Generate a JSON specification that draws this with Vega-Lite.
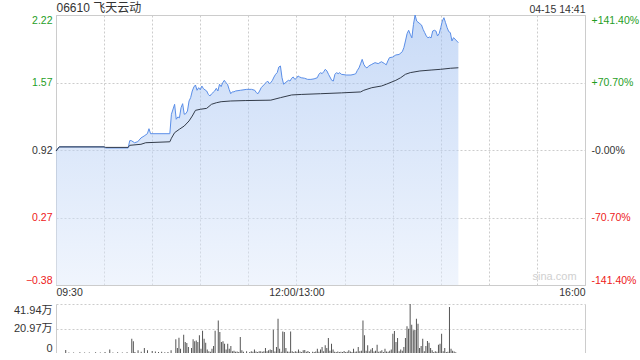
{
  "$schema": "https://vega.github.io/schema/vega-lite/v6.json",
  "padding": {"left": 5, "top": 0, "right": 0, "bottom": 0},
  "background": "white",
  "config": {"font": "Liberation Sans, Noto Sans CJK SC", "concat": {"spacing": 6}},
  "datasets": {
    "price": [
      {"m":0,"p":0.91},{"m":2,"p":0.95},{"m":30,"p":0.95},{"m":31,"p":0.94},{"m":45,"p":0.94},{"m":46,"p":1.01},{"m":47,"p":1.01},{"m":49,"p":0.99},{"m":51,"p":1.0},{"m":53,"p":1.036},{"m":55,"p":1.055},{"m":57,"p":1.077},{"m":58,"p":1.125},{"m":59,"p":1.077},{"m":71,"p":1.077},{"m":72,"p":1.264},{"m":74,"p":1.36},{"m":75,"p":1.216},{"m":76,"p":1.238},{"m":77,"p":1.23},{"m":78,"p":1.327},{"m":79,"p":1.366},{"m":80,"p":1.264},{"m":81,"p":1.27},{"m":82,"p":1.295},{"m":83,"p":1.392},{"m":84,"p":1.424},{"m":85,"p":1.488},{"m":86,"p":1.527},{"m":87,"p":1.546},{"m":88,"p":1.495},{"m":89,"p":1.52},{"m":90,"p":1.5},{"m":91,"p":1.536},{"m":92,"p":1.51},{"m":94,"p":1.488},{"m":95,"p":1.456},{"m":96,"p":1.44},{"m":97,"p":1.46},{"m":99,"p":1.488},{"m":100,"p":1.514},{"m":101,"p":1.488},{"m":102,"p":1.553},{"m":103,"p":1.53},{"m":104,"p":1.568},{"m":105,"p":1.591},{"m":106,"p":1.568},{"m":107,"p":1.553},{"m":108,"p":1.504},{"m":109,"p":1.462},{"m":110,"p":1.48},{"m":111,"p":1.48},{"m":112,"p":1.488},{"m":115,"p":1.495},{"m":119,"p":1.504},{"m":122,"p":1.504},{"m":124,"p":1.495},{"m":125,"p":1.472},{"m":126,"p":1.462},{"m":127,"p":1.488},{"m":128,"p":1.52},{"m":129,"p":1.536},{"m":130,"p":1.553},{"m":131,"p":1.568},{"m":132,"p":1.584},{"m":133,"p":1.56},{"m":134,"p":1.568},{"m":135,"p":1.591},{"m":136,"p":1.623},{"m":137,"p":1.649},{"m":138,"p":1.665},{"m":139,"p":1.719},{"m":140,"p":1.729},{"m":141,"p":1.616},{"m":142,"p":1.553},{"m":143,"p":1.568},{"m":145,"p":1.591},{"m":146,"p":1.584},{"m":147,"p":1.611},{"m":148,"p":1.623},{"m":149,"p":1.6},{"m":150,"p":1.611},{"m":151,"p":1.633},{"m":152,"p":1.623},{"m":153,"p":1.616},{"m":155,"p":1.611},{"m":157,"p":1.6},{"m":159,"p":1.6},{"m":161,"p":1.605},{"m":163,"p":1.616},{"m":164,"p":1.649},{"m":165,"p":1.665},{"m":166,"p":1.655},{"m":167,"p":1.674},{"m":168,"p":1.697},{"m":169,"p":1.681},{"m":170,"p":1.649},{"m":172,"p":1.591},{"m":173,"p":1.584},{"m":174,"p":1.649},{"m":175,"p":1.665},{"m":176,"p":1.655},{"m":177,"p":1.665},{"m":178,"p":1.649},{"m":181,"p":1.642},{"m":184,"p":1.642},{"m":186,"p":1.649},{"m":187,"p":1.655},{"m":188,"p":1.687},{"m":189,"p":1.71},{"m":190,"p":1.75},{"m":191,"p":1.793},{"m":192,"p":1.745},{"m":193,"p":1.72},{"m":194,"p":1.71},{"m":195,"p":1.728},{"m":197,"p":1.745},{"m":199,"p":1.761},{"m":201,"p":1.752},{"m":203,"p":1.77},{"m":205,"p":1.752},{"m":206,"p":1.74},{"m":207,"p":1.777},{"m":208,"p":1.809},{"m":210,"p":1.815},{"m":212,"p":1.835},{"m":214,"p":1.84},{"m":216,"p":1.866},{"m":217,"p":1.905},{"m":218,"p":1.97},{"m":219,"p":2.04},{"m":220,"p":2.073},{"m":221,"p":2.034},{"m":222,"p":2.0},{"m":223,"p":2.13},{"m":224,"p":2.22},{"m":225,"p":2.162},{"m":227,"p":2.136},{"m":228,"p":2.124},{"m":229,"p":2.082},{"m":230,"p":2.05},{"m":231,"p":2.018},{"m":232,"p":2.0},{"m":233,"p":2.008},{"m":234,"p":2.0},{"m":235,"p":2.066},{"m":236,"p":2.073},{"m":237,"p":2.066},{"m":238,"p":2.018},{"m":239,"p":2.04},{"m":240,"p":2.098},{"m":241,"p":2.162},{"m":242,"p":2.194},{"m":243,"p":2.146},{"m":244,"p":2.098},{"m":245,"p":2.06},{"m":246,"p":2.05},{"m":247,"p":1.97},{"m":248,"p":2.002},{"m":250,"p":1.97},{"m":251,"p":1.953}
    ],
    "avg": [
      {"m":0,"a":0.91},{"m":2,"a":0.95},{"m":30,"a":0.95},{"m":31,"a":0.945},{"m":45,"a":0.945},{"m":46,"a":0.965},{"m":53,"a":0.975},{"m":56,"a":0.99},{"m":71,"a":0.999},{"m":72,"a":1.033},{"m":74,"a":1.087},{"m":77,"a":1.12},{"m":80,"a":1.151},{"m":83,"a":1.2},{"m":85,"a":1.247},{"m":87,"a":1.302},{"m":90,"a":1.312},{"m":94,"a":1.321},{"m":97,"a":1.36},{"m":100,"a":1.375},{"m":103,"a":1.385},{"m":109,"a":1.392},{"m":118,"a":1.396},{"m":131,"a":1.399},{"m":134,"a":1.4},{"m":140,"a":1.424},{"m":147,"a":1.45},{"m":153,"a":1.455},{"m":165,"a":1.462},{"m":178,"a":1.47},{"m":190,"a":1.479},{"m":192,"a":1.495},{"m":194,"a":1.505},{"m":197,"a":1.52},{"m":203,"a":1.536},{"m":206,"a":1.553},{"m":212,"a":1.591},{"m":215,"a":1.616},{"m":218,"a":1.649},{"m":221,"a":1.665},{"m":227,"a":1.681},{"m":234,"a":1.69},{"m":240,"a":1.697},{"m":246,"a":1.707},{"m":251,"a":1.712}
    ],
    "vol": [
      {"m":3,"v":2.5},{"m":5,"v":0.5},{"m":8,"v":0.4},{"m":12,"v":0.6},{"m":15,"v":0.5},{"m":18,"v":0.4},{"m":22,"v":0.6},{"m":25,"v":0.5},{"m":28,"v":0.8},{"m":31,"v":2.9},{"m":33,"v":0.5},{"m":36,"v":0.6},{"m":39,"v":0.5},{"m":42,"v":0.7},{"m":45,"v":12.3},{"m":46,"v":10},{"m":47,"v":0.8},{"m":49,"v":2.3},{"m":51,"v":1.0},{"m":53,"v":4.3},{"m":55,"v":2.3},{"m":58,"v":1.7},{"m":60,"v":1.2},{"m":62,"v":0.8},{"m":64,"v":1.0},{"m":66,"v":0.6},{"m":68,"v":0.8},{"m":70,"v":2.3},{"m":73,"v":11.7},{"m":74,"v":4.3},{"m":75,"v":13.1},{"m":76,"v":3.7},{"m":78,"v":15.7},{"m":79,"v":9.4},{"m":80,"v":8.5},{"m":81,"v":5.1},{"m":83,"v":4.3},{"m":84,"v":11.7},{"m":85,"v":10},{"m":86,"v":10.8},{"m":87,"v":9.4},{"m":88,"v":15.1},{"m":89,"v":3.7},{"m":90,"v":19.1},{"m":91,"v":12.3},{"m":92,"v":8.8},{"m":93,"v":3.1},{"m":94,"v":1.4},{"m":95,"v":1.0},{"m":96,"v":3.7},{"m":97,"v":6.0},{"m":98,"v":19.1},{"m":100,"v":27.9},{"m":101,"v":18},{"m":102,"v":9.4},{"m":103,"v":10},{"m":104,"v":8},{"m":105,"v":3.1},{"m":106,"v":8},{"m":107,"v":3.7},{"m":108,"v":6},{"m":109,"v":1.5},{"m":110,"v":2},{"m":111,"v":1.0},{"m":112,"v":1.2},{"m":113,"v":0.8},{"m":114,"v":13.7},{"m":115,"v":2.3},{"m":116,"v":1.0},{"m":118,"v":1.4},{"m":120,"v":0.9},{"m":121,"v":1.5},{"m":122,"v":1.0},{"m":123,"v":2.9},{"m":124,"v":1.2},{"m":125,"v":0.8},{"m":126,"v":1.4},{"m":127,"v":1.4},{"m":128,"v":1.0},{"m":129,"v":1.4},{"m":130,"v":4.3},{"m":131,"v":1.5},{"m":132,"v":2.3},{"m":133,"v":2.9},{"m":134,"v":2.6},{"m":135,"v":20},{"m":136,"v":1.2},{"m":137,"v":5.1},{"m":138,"v":29.4},{"m":139,"v":3.7},{"m":140,"v":1.0},{"m":141,"v":18.5},{"m":142,"v":18},{"m":143,"v":4.3},{"m":144,"v":1.2},{"m":145,"v":1.0},{"m":146,"v":18.5},{"m":147,"v":1.5},{"m":148,"v":0.9},{"m":149,"v":1.4},{"m":150,"v":1.0},{"m":151,"v":3.1},{"m":152,"v":1.2},{"m":153,"v":0.8},{"m":154,"v":2.3},{"m":155,"v":2.6},{"m":156,"v":1.0},{"m":157,"v":1.7},{"m":158,"v":0.8},{"m":160,"v":1.0},{"m":161,"v":0.9},{"m":162,"v":1.2},{"m":163,"v":3.7},{"m":164,"v":1.0},{"m":165,"v":2.9},{"m":166,"v":5.1},{"m":167,"v":1.4},{"m":168,"v":6.6},{"m":169,"v":4.3},{"m":170,"v":12.8},{"m":171,"v":2.0},{"m":172,"v":8},{"m":173,"v":2.9},{"m":174,"v":1.0},{"m":175,"v":0.8},{"m":176,"v":1.2},{"m":177,"v":0.9},{"m":178,"v":1.0},{"m":179,"v":0.8},{"m":180,"v":1.7},{"m":181,"v":0.9},{"m":182,"v":1.0},{"m":183,"v":2.3},{"m":184,"v":1.2},{"m":185,"v":0.8},{"m":186,"v":3.7},{"m":187,"v":1.0},{"m":188,"v":1.2},{"m":189,"v":5.1},{"m":190,"v":1.4},{"m":191,"v":2.0},{"m":192,"v":27.9},{"m":193,"v":15.1},{"m":194,"v":2.0},{"m":195,"v":6.6},{"m":196,"v":1.5},{"m":197,"v":2.9},{"m":198,"v":4.3},{"m":199,"v":1.2},{"m":200,"v":2.0},{"m":201,"v":7.1},{"m":202,"v":1.0},{"m":203,"v":1.4},{"m":204,"v":2.3},{"m":205,"v":0.9},{"m":206,"v":3.7},{"m":207,"v":1.2},{"m":208,"v":1.0},{"m":209,"v":2.0},{"m":210,"v":2.9},{"m":211,"v":16.5},{"m":212,"v":18.8},{"m":213,"v":9.4},{"m":214,"v":12.8},{"m":215,"v":1.5},{"m":216,"v":2.9},{"m":217,"v":2.0},{"m":218,"v":5.1},{"m":219,"v":12.8},{"m":220,"v":23},{"m":221,"v":20.8},{"m":222,"v":41.9},{"m":223,"v":24.2},{"m":224,"v":19.4},{"m":225,"v":19.7},{"m":226,"v":29.4},{"m":227,"v":25},{"m":228,"v":4.3},{"m":229,"v":6},{"m":230,"v":12.3},{"m":231,"v":1.4},{"m":232,"v":6},{"m":233,"v":10.3},{"m":234,"v":8.8},{"m":235,"v":4.3},{"m":236,"v":2.3},{"m":237,"v":0.9},{"m":238,"v":1.4},{"m":239,"v":1.0},{"m":240,"v":7.1},{"m":241,"v":8},{"m":242,"v":16.5},{"m":243,"v":1.4},{"m":244,"v":4.3},{"m":245,"v":0.9},{"m":246,"v":1.0},{"m":247,"v":39.3},{"m":248,"v":3.7},{"m":249,"v":2.0},{"m":250,"v":1.2},{"m":251,"v":0.6}
    ],
    "wm": [{"m":311,"p":-0.30,"t":"sina.com"}]
  },
  "vconcat": [
    {
      "width": 529,
      "height": 270,
      "view": {"stroke": "#cccccc"},
      "resolve": {"axis": {"x": "independent", "y": "independent"}},
      "layer": [
        {
          "data": {"name": "price"},
          "mark": {"type": "area", "line": false, "fillOpacity": 0.5, "color": {"gradient": "linear", "x1": 0, "y1": 0, "x2": 0, "y2": 1, "stops": [{"offset": 0, "color": "#93b7ef"}, {"offset": 1, "color": "#e1ebfb"}]}},
          "encoding": {
            "x": {"field": "m", "type": "quantitative", "scale": {"domain": [0, 330], "nice": false, "zero": false},
              "axis": {"orient": "bottom", "values": [0,30,60,90,120,150,180,210,240,270,300,330], "labelExpr": "datum.value==0?'09:30':(datum.value==150?'12:00/13:00':(datum.value==330?'16:00':''))", "grid": true, "gridColor": "#cccccc", "gridDash": [2,2], "ticks": false, "domain": false, "labelFlush": true, "labelFontSize": 10.5, "labelColor": "#333333", "labelPadding": 2, "labelOverlap": false, "title": null}},
            "y": {"field": "p", "type": "quantitative", "scale": {"domain": [-0.38, 2.22], "nice": false, "zero": false},
              "axis": {"orient": "left", "values": [-0.38, 0.27, 0.92, 1.57, 2.22], "labelExpr": "format(datum.value,'.2f')", "grid": true, "gridColor": "#cccccc", "gridDash": [2,2], "ticks": false, "domain": false, "labelFlush": true, "labelPadding": 4, "labelFontSize": 10.5, "labelColor": {"condition": [{"test": "datum.value > 0.93", "value": "#1f9e1f"}, {"test": "datum.value < 0.91", "value": "#ee2020"}], "value": "#333333"}, "minExtent": 50, "maxExtent": 50, "labelOverlap": false, "title": null}},
            "y2": {"datum": -0.38}
          }
        },
        {
          "data": {"name": "price"},
          "mark": {"type": "line", "color": "#5a8ee8", "strokeWidth": 1},
          "encoding": {
            "x": {"field": "m", "type": "quantitative",
              "axis": {"orient": "top", "values": [0, 330], "labelExpr": "datum.value==0?'06610 飞天云动':'04-15 14:41'", "grid": false, "ticks": false, "domain": false, "labelFlush": true, "labelPadding": 1, "labelFontSize": {"condition": {"test": "datum.value==0", "value": 12}, "value": 10.5}, "labelColor": "#333333", "labelOverlap": false, "minExtent": 13, "maxExtent": 13, "title": null}},
            "y": {"field": "p", "type": "quantitative",
              "axis": {"orient": "right", "values": [-0.38, 0.27, 0.92, 1.57, 2.22], "labelExpr": "datum.value>2?'+141.40%':(datum.value>1.5?'+70.70%':(datum.value>0.9?'-0.00%':(datum.value>0?'-70.70%':'-141.40%')))", "grid": false, "ticks": false, "domain": false, "labelFlush": true, "labelPadding": 6, "labelFontSize": 10.5, "labelColor": {"condition": [{"test": "datum.value > 0.93", "value": "#1f9e1f"}, {"test": "datum.value < 0.91", "value": "#ee2020"}], "value": "#333333"}, "labelOverlap": false, "title": null}}
          }
        },
        {
          "data": {"name": "avg"},
          "mark": {"type": "line", "color": "#333c4a", "strokeWidth": 1},
          "encoding": {
            "x": {"field": "m", "type": "quantitative", "axis": null},
            "y": {"field": "a", "type": "quantitative", "axis": null}
          }
        },
        {
          "data": {"name": "wm"},
          "mark": {"type": "text", "color": "#d0d0d0", "fontSize": 11},
          "encoding": {
            "x": {"field": "m", "type": "quantitative", "axis": null},
            "y": {"field": "p", "type": "quantitative", "axis": null},
            "text": {"field": "t"}
          }
        }
      ]
    },
    {
      "width": 529,
      "height": 49,
      "view": {"stroke": null},
      "data": {"name": "vol"},
      "resolve": {"axis": {"y": "independent"}},
      "layer": [
        {
          "mark": {"type": "bar", "color": "#555555", "size": 1, "clip": true},
          "encoding": {
            "x": {"field": "m", "type": "quantitative", "scale": {"domain": [0, 330], "nice": false, "zero": false}, "axis": null},
            "y": {"field": "v", "type": "quantitative", "scale": {"domain": [0, 41.94], "nice": false},
              "axis": {"orient": "left", "values": [0, 20.97, 41.94], "labelExpr": "datum.value==0?'0':format(datum.value,'.2f')+'万'", "grid": true, "gridColor": "#cccccc", "gridDash": [2,2], "ticks": false, "domain": true, "domainColor": "#cccccc", "labelFlush": true, "labelPadding": 4, "labelFontSize": 11, "labelColor": "#333333", "minExtent": 50, "maxExtent": 50, "labelOverlap": false, "title": null}}
          }
        },
        {
          "mark": {"type": "bar", "opacity": 0, "size": 1},
          "encoding": {
            "x": {"field": "m", "type": "quantitative", "axis": null},
            "y": {"field": "v", "type": "quantitative",
              "axis": {"orient": "right", "labels": false, "grid": false, "ticks": false, "domain": true, "domainColor": "#cccccc", "title": null}}
          }
        }
      ]
    }
  ]
}
